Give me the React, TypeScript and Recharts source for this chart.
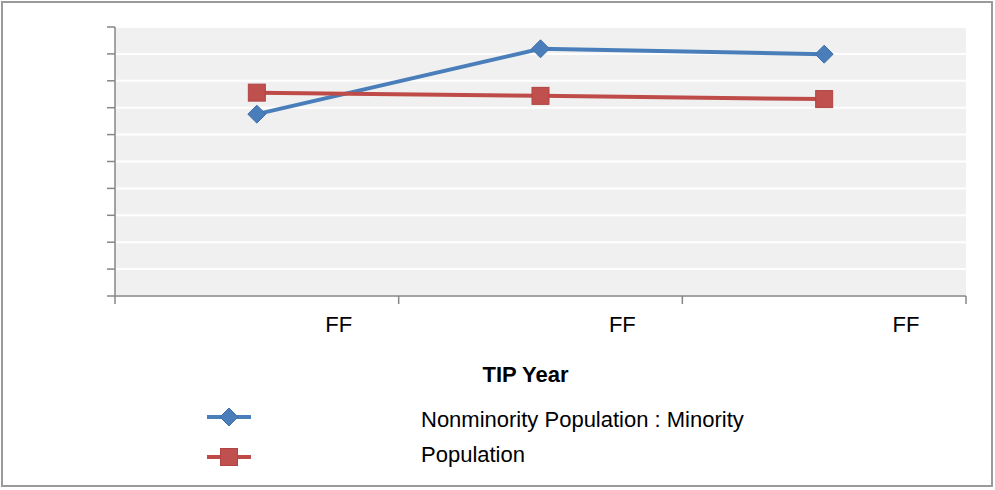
import { LineChart, Line, XAxis, YAxis, CartesianGrid } from "recharts";

const categories = ["FF", "FF", "FF"];
const nonminority = [6.76, 9.19, 8.99];
const population = [7.56, 7.44, 7.32];
const yTicks = [0, 1, 2, 3, 4, 5, 6, 7, 8, 9, 10];
const xBoundaries = [0, 1, 2, 3];
const seriesNames = ["Nonminority Population : Minority", "Population"];

const BLUE = "#4a7ebb";
const RED = "#be4b48";
const AXIS = "#868686";
const FONT = "'Liberation Sans', Arial, sans-serif";

// points sit in the middle of each category band, ticks on the band edges
const chartData = categories.map((label, i) => ({
  pos: i + 0.5,
  label,
  nonminority: nonminority[i],
  population: population[i],
}));

function Diamond({ cx, cy }: { cx?: number; cy?: number }) {
  if (cx == null || cy == null) return <g />;
  const r = 9;
  return (
    <polygon
      points={`${cx},${cy - r} ${cx + r},${cy} ${cx},${cy + r} ${cx - r},${cy}`}
      fill={BLUE}
      stroke="#3f6fa8"
      strokeWidth={1}
    />
  );
}

function Square({ cx, cy }: { cx?: number; cy?: number }) {
  if (cx == null || cy == null) return <g />;
  const h = 8.5;
  return (
    <rect x={cx - h} y={cy - h} width={h * 2} height={h * 2} fill="#c0504d" stroke="#b04442" strokeWidth={1} />
  );
}

function CategoryTick({ x, y, payload }: { x?: number; y?: number; payload?: { value: number } }) {
  const label = payload ? categories[payload.value - 1] : undefined;
  if (!label || x == null || y == null) return <g />;
  return (
    <text x={x - 60} y={y + 18} dy="0.355em" textAnchor="middle" fontFamily={FONT} fontSize={22} fill="#000">
      {label}
    </text>
  );
}

function AxisTitle({ viewBox }: { viewBox?: { x: number; y: number; width: number } }) {
  if (!viewBox) return null;
  return (
    <text
      x={viewBox.x + viewBox.width / 2 - 15}
      y={viewBox.y + 78}
      dy="0.355em"
      textAnchor="middle"
      fontFamily={FONT}
      fontSize={22}
      fontWeight="bold"
      fill="#000"
    >
      TIP Year
    </text>
  );
}

function LegendIcon({ color, marker }: { color: string; marker: "diamond" | "square" }) {
  return (
    <svg width={44} height={20} style={{ display: "block" }}>
      <line x1={0} y1={10} x2={44} y2={10} stroke={color} strokeWidth={4} />
      {marker === "diamond" ? <Diamond cx={22} cy={10} /> : <Square cx={22} cy={10} />}
    </svg>
  );
}

export default function App() {
  const rows = [
    { name: seriesNames[0], color: BLUE, marker: "diamond" as const, iconY: 414, textY: 417 },
    { name: seriesNames[1], color: RED, marker: "square" as const, iconY: 454, textY: 452 },
  ];
  return (
    <div
      style={{
        position: "absolute",
        left: 1,
        top: 1,
        width: 992,
        height: 486,
        border: "2px solid #9a9a9a",
        boxSizing: "border-box",
        background: "#fff",
        fontFamily: FONT,
      }}
    >
      <LineChart
        width={988}
        height={482}
        data={chartData}
        margin={{ top: 24, right: 25, bottom: 149, left: 52 }}
      >
        <CartesianGrid vertical={false} fill="#f0f0f0" stroke="#ffffff" strokeWidth={2} />
        <XAxis
          type="number"
          dataKey="pos"
          domain={[0, 3]}
          ticks={xBoundaries}
          tick={<CategoryTick />}
          tickSize={8}
          height={40}
          axisLine={{ stroke: AXIS, strokeWidth: 1.5 }}
          tickLine={{ stroke: AXIS, strokeWidth: 1.5 }}
          label={<AxisTitle />}
        />
        <YAxis
          domain={[0, 10]}
          ticks={yTicks}
          tickFormatter={() => ""}
          tickSize={8}
          width={60}
          axisLine={{ stroke: AXIS, strokeWidth: 1.5 }}
          tickLine={{ stroke: AXIS, strokeWidth: 1.5 }}
        />
        <Line
          dataKey="nonminority"
          name={seriesNames[0]}
          stroke={BLUE}
          strokeWidth={4}
          dot={<Diamond />}
          activeDot={false}
          isAnimationActive={false}
        />
        <Line
          dataKey="population"
          name={seriesNames[1]}
          stroke={RED}
          strokeWidth={4}
          dot={<Square />}
          activeDot={false}
          isAnimationActive={false}
        />
      </LineChart>

      {rows.map((r) => (
        <div key={r.name}>
          <div style={{ position: "absolute", left: 204, top: r.iconY - 10 }}>
            <LegendIcon color={r.color} marker={r.marker} />
          </div>
          <div
            style={{
              position: "absolute",
              left: 418,
              top: r.textY - 14,
              height: 28,
              lineHeight: "28px",
              fontSize: 22,
              color: "#000",
              whiteSpace: "nowrap",
            }}
          >
            {r.name}
          </div>
        </div>
      ))}
    </div>
  );
}
